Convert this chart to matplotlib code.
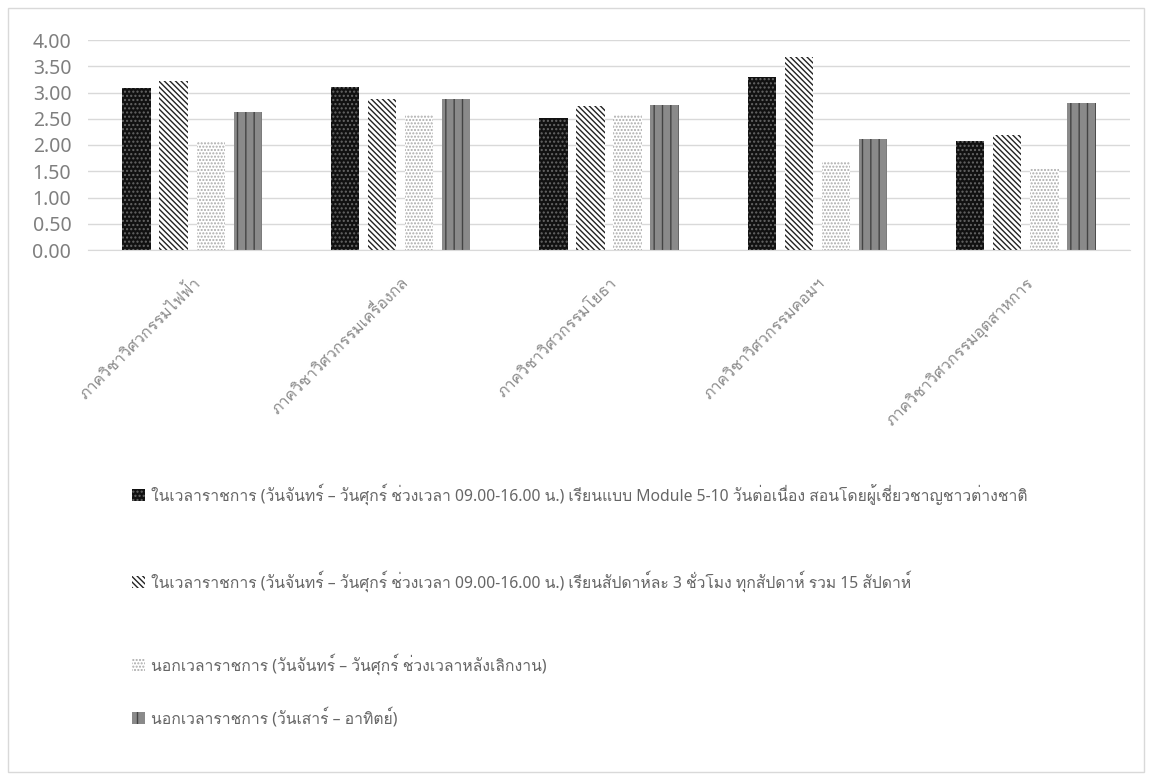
import matplotlib
matplotlib.use('Agg')
import matplotlib.pyplot as plt
from matplotlib import font_manager
from matplotlib.ft2font import FT2Font
import numpy as np
from matplotlib.patches import Patch


def find_thai_families():
    # look for any installed font that has Thai glyphs
    found = []
    for f in font_manager.fontManager.ttflist:
        try:
            cmap = FT2Font(f.fname).get_charmap()
        except Exception:
            continue
        if 0x0E01 in cmap and 0x0E27 in cmap and f.name not in found:
            found.append(f.name)
    return found


thai_fams = find_thai_families()
plt.rcParams['font.family'] = ['Noto Sans'] + thai_fams + ['DejaVu Sans']
plt.rcParams['hatch.linewidth'] = 1.0

categories = ['ภาควิชาวิศวกรรมไฟฟ้า', 'ภาควิชาวิศวกรรมเครื่องกล', 'ภาควิชาวิศวกรรมโยธา',
              'ภาควิชาวิศวกรรมคอมฯ', 'ภาควิชาวิศวกรรมอุตสาหการ']
series_labels = [
    'ในเวลาราชการ (วันจันทร์ – วันศุกร์ ช่วงเวลา 09.00-16.00 น.) เรียนแบบ Module 5-10 วันต่อเนื่อง สอนโดยผู้เชี่ยวชาญชาวต่างชาติ',
    'ในเวลาราชการ (วันจันทร์ – วันศุกร์ ช่วงเวลา 09.00-16.00 น.) เรียนสัปดาห์ละ 3 ชั่วโมง ทุกสัปดาห์ รวม 15 สัปดาห์',
    'นอกเวลาราชการ (วันจันทร์ – วันศุกร์ ช่วงเวลาหลังเลิกงาน)',
    'นอกเวลาราชการ (วันเสาร์ – อาทิตย์)',
]
module_weekday = [3.08, 3.10, 2.52, 3.30, 2.07]
weekly_weekday = [3.22, 2.88, 2.75, 3.68, 2.20]
after_work = [2.08, 2.57, 2.57, 1.68, 1.57]
weekend = [2.62, 2.88, 2.77, 2.12, 2.80]
yticks = [0.0, 0.5, 1.0, 1.5, 2.0, 2.5, 3.0, 3.5, 4.0]

series = [module_weekday, weekly_weekday, after_work, weekend]
styles = [
    dict(facecolor='#111111', edgecolor='#666666', hatch='....'),
    dict(facecolor='white', edgecolor='#222222', hatch='\\\\\\\\\\\\'),
    dict(facecolor='white', edgecolor='#aaaaaa', hatch='.....'),
    dict(facecolor='#8a8a8a', edgecolor='#444444', hatch='||'),
]

fig = plt.figure(figsize=(11.52, 7.76), dpi=100)
ax = fig.add_axes([88 / 1152, 1 - 250 / 776, (1130 - 88) / 1152, 210 / 776])

x = np.arange(len(categories))
width = 0.136
pitch = 0.178
handles = []
for i, (vals, st) in enumerate(zip(series, styles)):
    ax.bar(x + (i - 1.5) * pitch, vals, width, linewidth=0, **st)
    handles.append(Patch(label=series_labels[i], linewidth=0, **st))

ax.set_xlim(-0.5, len(categories) - 0.5)
ax.set_ylim(0, 4)
ax.set_yticks(yticks)
ax.set_yticklabels(['{:.2f}'.format(t) for t in yticks], color='#7f7f7f', fontsize=14)
ax.yaxis.grid(True, color='#d9d9d9', linewidth=1)
ax.set_axisbelow(True)
ax.set_xticks(x)
ax.set_xticklabels(categories, rotation=45, ha='right', rotation_mode='anchor',
                   color='#8c8c8c', fontsize=11.5)
ax.tick_params(axis='x', length=0, pad=18)
ax.tick_params(axis='y', length=0, pad=12)
for s in ['top', 'right', 'left']:
    ax.spines[s].set_visible(False)
ax.spines['bottom'].set_color('#d9d9d9')

# legend entries sit at uneven heights, one legend per entry
legend_y = [494, 581, 664, 718]
for h, ly in zip(handles, legend_y):
    fig.legend(handles=[h], loc='center left', bbox_to_anchor=(118 / 1152, 1 - ly / 776),
               frameon=False, fontsize=11.3, labelcolor='#666666',
               handlelength=0.8, handleheight=0.8, handletextpad=0.4)

fig.add_artist(plt.Rectangle((8 / 1152, 4 / 776), 1 - 16 / 1152, 1 - 12 / 776,
                             transform=fig.transFigure, fill=False,
                             edgecolor='#d9d9d9', linewidth=1))

plt.savefig('out.png', dpi=100)
